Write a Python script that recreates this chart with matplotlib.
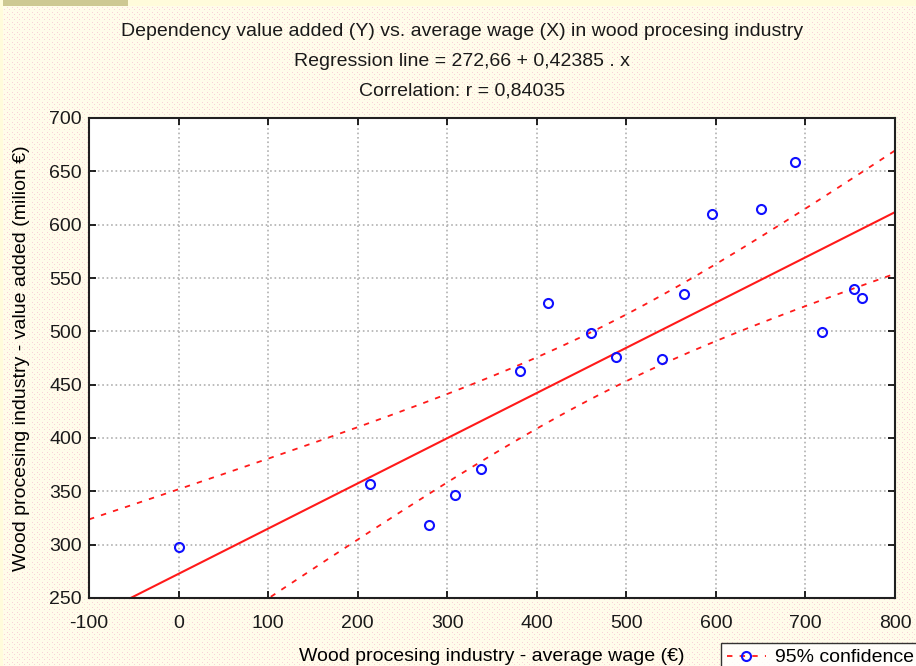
import numpy as np
import matplotlib.pyplot as plt
from matplotlib.lines import Line2D

plt.rcParams['font.family'] = ['Liberation Sans', 'DejaVu Sans']
plt.rcParams['axes.unicode_minus'] = False

# average wage (EUR) and value added (mil. EUR)
wage = [0, 214, 280, 309, 338, 381, 412, 461, 488, 540, 564, 596, 650, 688, 719, 754, 763]
value = [298, 357, 318, 347, 371, 463, 527, 498, 476, 474, 535, 610, 615, 659, 499, 540, 531]

a0 = 272.66
a1 = 0.42385
r = 0.84035

x = np.array(wage, dtype=float)
y = np.array(value, dtype=float)
n = len(x)

# 95% confidence band of the regression line
res = y - (a0 + a1 * x)
s = np.sqrt(np.sum(res**2) / (n - 2))
sxx = np.sum((x - x.mean())**2)
t975 = 2.1314  # t(0.975, n-2=15)
xx = np.linspace(-100, 800, 400)
yy = a0 + a1 * xx
hw = t975 * s * np.sqrt(1/n + (xx - x.mean())**2 / sxx)

W, H = 916, 666
fs = 14
fig = plt.figure(figsize=(W/100, H/100), dpi=100)

# background texture: cream with pink dots
bg = np.ones((H, W, 3))
bg[:] = (1.0, 0.99, 0.92)
pink = (0.98, 0.82, 0.85)
bg[2::5, 2::5] = pink
bg[4::5, 4::5] = pink
bg[:6, :] = (1.0, 0.99, 0.86)
bg[:6, :128] = (0.81, 0.79, 0.58)
bg[:, :3] = (1.0, 0.99, 0.86)
fig.figimage(bg, 0, 0, zorder=-10)
fig.patch.set_alpha(0)

ax = fig.add_axes([89/W, 1 - 598/H, (895-89)/W, (598-118)/H])
ax.set_facecolor('white')

ax.plot(xx, yy, '-', color='#ff1a1a', lw=1.5)
ax.plot(xx, yy + hw, '--', color='#ff1a1a', lw=1.3, dashes=(3, 4))
ax.plot(xx, yy - hw, '--', color='#ff1a1a', lw=1.3, dashes=(3, 4))
ax.plot(x, y, 'o', mfc='none', mec='#1010ff', mew=1.5, ms=6.5, ls='none')

ax.set_xlim(-100, 800)
ax.set_ylim(250, 700)
ax.set_xticks(np.arange(-100, 801, 100))
ax.set_yticks(np.arange(250, 701, 50))
ax.grid(True, ls=':', color='#b0b0b0', lw=1.2)
ax.tick_params(direction='in', length=5, width=1.2, top=True, right=True,
               labelsize=fs, colors='black', labelcolor='#1a1a1a', pad=5)
ax.tick_params(axis='x', pad=12)
for sp in ax.spines.values():
    sp.set_linewidth(1.5)
    sp.set_color('#202020')

ax.set_xlabel('Wood procesing industry - average wage (€)', fontsize=fs, labelpad=12)
ax.set_ylabel('Wood procesing industry - value added (milion €)', fontsize=fs, labelpad=14)

fig.text(462/W, 1 - 31/H, 'Dependency value added (Y) vs. average wage (X) in wood procesing industry',
         ha='center', va='center', fontsize=fs, color='#1a1a1a')
fig.text(462/W, 1 - 61/H, 'Regression line = 272,66 + 0,42385 . x',
         ha='center', va='center', fontsize=fs, color='#1a1a1a')
fig.text(462/W, 1 - 91/H, 'Correlation: r = %s' % ('%.5f' % r).replace('.', ','),
         ha='center', va='center', fontsize=fs, color='#1a1a1a')

handle = (Line2D([], [], color='#ff1a1a', lw=1.3, dashes=(3, 4)),
          Line2D([], [], marker='o', mfc='none', mec='#1010ff', mew=1.5, ms=6.5, ls='none'))
leg = fig.legend([handle], ['95% confidence'], loc='upper left',
                 bbox_to_anchor=(721/W, 1 - 643/H), fontsize=fs, frameon=True,
                 fancybox=False, borderpad=0.3, borderaxespad=0, handlelength=2.0,
                 handletextpad=0.5)
leg.get_frame().set_edgecolor('black')
leg.get_frame().set_linewidth(1.0)
leg.get_frame().set_facecolor('white')

fig.savefig('out.png', dpi=100)
